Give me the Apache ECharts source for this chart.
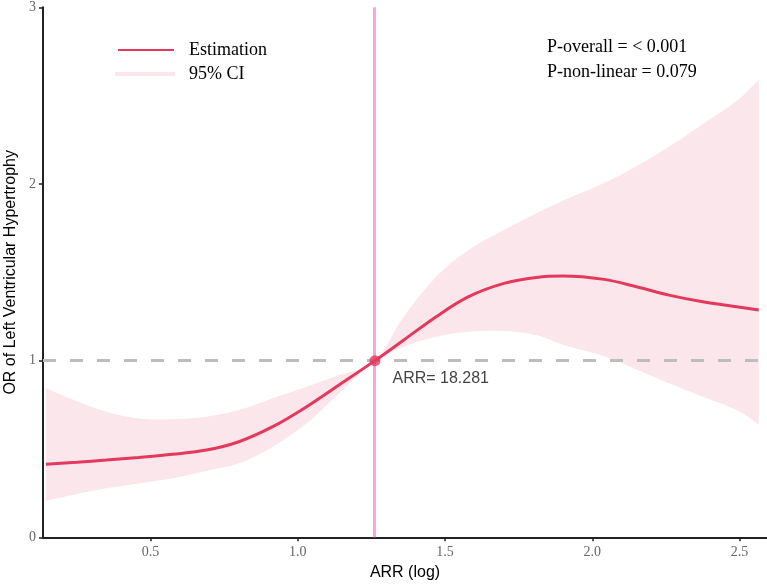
<!DOCTYPE html>
<html>
<head>
<meta charset="utf-8">
<script src="https://cdn.jsdelivr.net/npm/echarts@6/dist/echarts.min.js"></script>
<style>html,body{margin:0;padding:0;background:#fff}#c{width:767px;height:584px}</style>
</head>
<body>
<div id="c"></div>
<script>
// ARR (log10) grid
var xs = [0.145, 0.25, 0.35, 0.46, 0.575, 0.69, 0.80, 0.915, 1.03, 1.14, 1.262, 1.36, 1.47, 1.58, 1.70, 1.81, 1.90, 2.04, 2.15, 2.26, 2.375, 2.49, 2.565];
var estimate = [0.414, 0.425, 0.437, 0.452, 0.470, 0.494, 0.541, 0.626, 0.739, 0.862, 1.0, 1.117, 1.249, 1.362, 1.437, 1.471, 1.479, 1.460, 1.418, 1.371, 1.333, 1.305, 1.286];
var ciUpper = [0.843, 0.770, 0.711, 0.673, 0.668, 0.683, 0.720, 0.787, 0.852, 0.918, 1.0, 1.249, 1.475, 1.626, 1.739, 1.834, 1.905, 2.005, 2.10, 2.21, 2.34, 2.47, 2.59];
var ciLower = [0.207, 0.245, 0.277, 0.305, 0.334, 0.377, 0.419, 0.513, 0.645, 0.815, 1.0, 1.079, 1.135, 1.164, 1.168, 1.145, 1.090, 1.025, 0.950, 0.872, 0.796, 0.720, 0.636];
var refX = 1.262;   // log10(18.281)
var refY = 1;
var xTicks = [0.5, 1.0, 1.5, 2.0, 2.5];
var yTicks = [0, 1, 2, 3];
var pOverall = 'P-overall = < 0.001';
var pNonLinear = 'P-non-linear = 0.079';
var refLabel = 'ARR= 18.281';

var RED = '#E4395C', PINK = '#FAE6EB', VLINE = '#F5A6DA';
var serif = 'Liberation Serif', sans = 'Liberation Sans';

var bandData = xs.map(function (x, i) { return [x, ciLower[i], ciUpper[i]]; });
var estData = xs.map(function (x, i) { return [x, estimate[i]]; });

// Catmull-Rom style smooth path segment through pixel points
function seg(pts, move) {
  var d = (move ? 'M' : 'L') + pts[0][0] + ',' + pts[0][1];
  for (var i = 0; i < pts.length - 1; i++) {
    var p0 = pts[Math.max(i - 1, 0)], p1 = pts[i], p2 = pts[i + 1], p3 = pts[Math.min(i + 2, pts.length - 1)];
    var t = 0.18;
    var c1 = [p1[0] + (p2[0] - p0[0]) * t, p1[1] + (p2[1] - p0[1]) * t];
    var c2 = [p2[0] - (p3[0] - p1[0]) * t, p2[1] - (p3[1] - p1[1]) * t];
    d += 'C' + c1[0] + ',' + c1[1] + ',' + c2[0] + ',' + c2[1] + ',' + p2[0] + ',' + p2[1];
  }
  return d;
}
function bandRender(params, api) {
  if (params.dataIndexInside !== 0) return null;
  var up = [], lo = [];
  for (var i = 0; i < bandData.length; i++) {
    up.push(api.coord([bandData[i][0], bandData[i][2]]));
    lo.push(api.coord([bandData[i][0], bandData[i][1]]));
  }
  return {
    type: 'path',
    shape: {pathData: seg(up, true) + seg(lo.slice().reverse(), false) + 'Z'},
    style: {fill: PINK, stroke: null}
  };
}

var chart = echarts.init(document.getElementById('c'), null, {renderer: 'canvas'});
chart.setOption({
  backgroundColor: '#fff',
  animation: false,
  grid: {left: 43, right: 0, top: 7.3, bottom: 46.7, containLabel: false, outerBoundsMode: 'none'},
  legend: [
    {left: 118, top: 41, padding: 0, orient: 'vertical', itemWidth: 56, itemHeight: 2,
     data: [{name: 'Estimation', icon: 'rect', itemStyle: {color: RED}}],
     textStyle: {fontFamily: serif, fontSize: 18, color: '#000', padding: [0, 0, 0, 10]}},
    {left: 115, top: 65, padding: 0, orient: 'vertical', itemWidth: 60, itemHeight: 4,
     data: [{name: '95% CI', icon: 'rect', itemStyle: {color: PINK}}],
     textStyle: {fontFamily: serif, fontSize: 18, color: '#000', padding: [0, 0, 0, 9]}}
  ],
  xAxis: {
    type: 'value', min: 0.135, max: 2.593,
    name: 'ARR (log)', nameLocation: 'middle', nameGap: 25,
    nameTextStyle: {fontFamily: sans, fontSize: 16, color: '#000'},
    axisLine: {show: true, lineStyle: {color: '#222', width: 2}},
    axisTick: {show: true, length: 4, customValues: xTicks, lineStyle: {color: '#222', width: 1.5}},
    axisLabel: {customValues: xTicks, fontFamily: serif, fontSize: 14, color: '#666', margin: 8,
      formatter: function (v) { return v.toFixed(1); }},
    splitLine: {show: false}
  },
  yAxis: {
    type: 'value', min: 0, max: 3, interval: 1,
    name: 'OR of Left Ventricular Hypertrophy', nameLocation: 'middle', nameGap: 21,
    nameTextStyle: {fontFamily: sans, fontSize: 16, color: '#000'},
    axisLine: {show: true, lineStyle: {color: '#222', width: 2}},
    axisTick: {show: true, length: 4, lineStyle: {color: '#222', width: 1.5}},
    axisLabel: {customValues: yTicks, fontFamily: serif, fontSize: 14, color: '#666', margin: 7},
    splitLine: {show: false}
  },
  series: [
    {name: '95% CI', type: 'custom', data: bandData, renderItem: bandRender, silent: true, z: 1,
     itemStyle: {color: PINK}, encode: {x: 0, y: [1, 2]}, clip: true,
     markLine: {silent: true, symbol: 'none', z: 2, label: {show: false},
       data: [
         {xAxis: refX, lineStyle: {color: VLINE, width: 3, type: 'solid'}},
         {yAxis: refY, lineStyle: {color: '#BDBDBD', width: 3, type: [13, 14]}}
       ]}},
    {name: 'Estimation', type: 'line', data: estData, smooth: 0.35, symbol: 'none',
     lineStyle: {color: RED, width: 3}, itemStyle: {color: RED}, z: 3},
    {name: 'ref', type: 'scatter', data: [[refX, refY]], symbolSize: 11, itemStyle: {color: RED}, z: 4,
     label: {show: true, position: 'right', offset: [7, 18], formatter: refLabel,
       fontFamily: sans, fontSize: 16, color: '#111'}}
  ],
  graphic: [
    {type: 'text', left: 547, top: 38, style: {text: pOverall, font: '18px "Liberation Serif"', fill: '#000'}},
    {type: 'text', left: 547, top: 63, style: {text: pNonLinear, font: '18px "Liberation Serif"', fill: '#000'}}
  ]
});
</script>
</body>
</html>
